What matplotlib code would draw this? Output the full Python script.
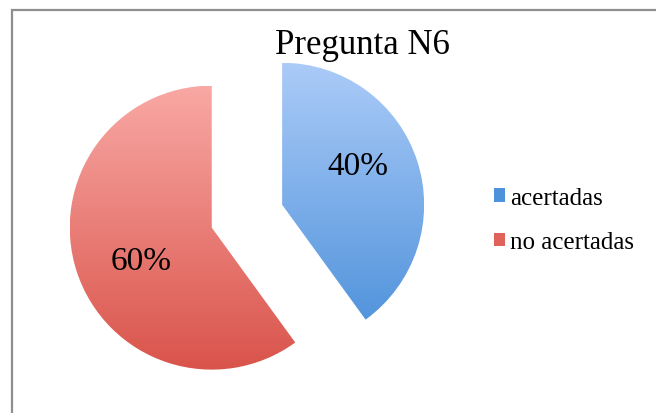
import numpy as np
import matplotlib.pyplot as plt
from matplotlib.colors import LinearSegmentedColormap
from matplotlib.patches import Patch, Rectangle

# Data
labels = ['acertadas', 'no acertadas']
values = [40, 60]
pct_labels = ['40%', '60%']
top_colors = ['#abcbf8', '#f9a8a4']
bottom_colors = ['#4a8fd9', '#d9544b']
mid_colors = ['#4f92dc', '#e0625a']

plt.rcParams['font.family'] = ['Liberation Serif', 'DejaVu Serif']

W, H = 656, 414
fig = plt.figure(figsize=(W / 100, H / 100), dpi=100)
ax = fig.add_axes([0, 0, 1, 1])

# Pie in pixel units (explode is in data units here)
center = (246, H - 217.5)
radius = 142
wedges, _ = ax.pie(values, startangle=90, counterclock=False,
                   explode=[38, 36], radius=radius, center=center,
                   frame=True)
ax.set_xlim(0, W)
ax.set_ylim(0, H)
ax.set_aspect('equal')
ax.axis('off')

# Vertical gradient fill clipped to each wedge
for w, c_top, c_bot in zip(wedges, top_colors, bottom_colors):
    w.set_facecolor('none')
    w.set_edgecolor('none')
    cx, cy = w.center
    cmap = LinearSegmentedColormap.from_list('g', [c_bot, c_top])
    grad = np.linspace(0, 1, 256).reshape(-1, 1)
    im = ax.imshow(grad, cmap=cmap, origin='lower', aspect='auto',
                   extent=[cx - radius, cx + radius, cy - radius, cy + radius],
                   zorder=1)
    im.set_clip_path(w)

# Percent labels
for w, txt, rot in zip(wedges, pct_labels, [9, 7]):
    cx, cy = w.center
    ang = np.deg2rad((w.theta1 + w.theta2) / 2 + rot)
    d = 0.6 * radius if rot == 9 else 0.55 * radius
    ax.text(cx + d * np.cos(ang), cy + d * np.sin(ang),
            txt, ha='center', va='center', fontsize=24, zorder=3)

# Title
fig.text(0.552, 1 - 46 / H, 'Pregunta N6', ha='center', va='center',
         fontsize=25)

# Legend
handles = [Patch(facecolor=c, edgecolor='none') for c in mid_colors]
fig.legend(handles, labels, loc='center left',
           bbox_to_anchor=(481 / W, 1 - 221 / H), frameon=False,
           fontsize=18, handlelength=0.45, handleheight=0.45,
           handletextpad=0.2, labelspacing=0.9, borderpad=0)

# Chart frame
fig.patches.append(Rectangle((12 / W, -0.1), 1.2, 1 - 11 / H + 0.1,
                             transform=fig.transFigure, fill=False,
                             edgecolor='#8f8f8f', linewidth=1.6))

fig.savefig('out.png', dpi=100)
